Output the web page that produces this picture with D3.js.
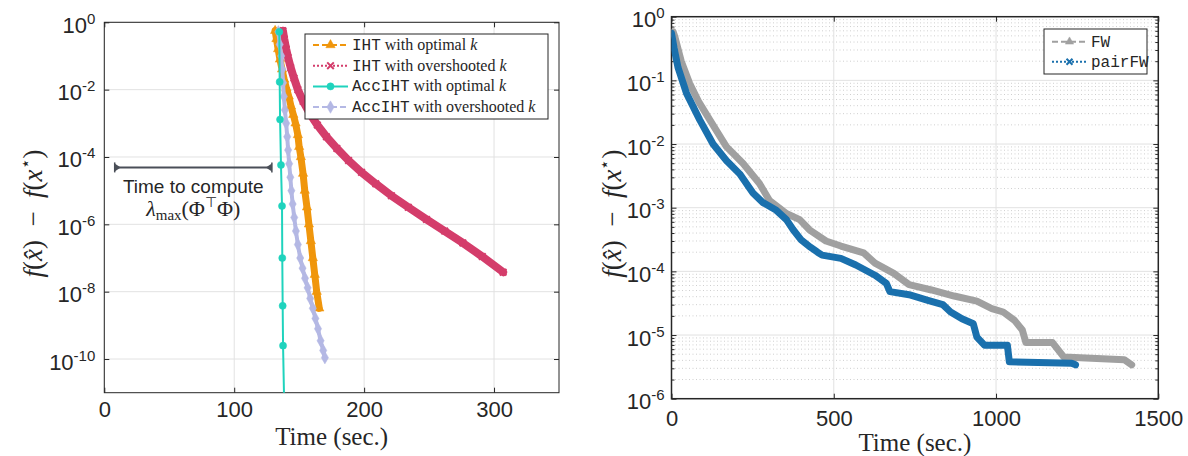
<!DOCTYPE html>
<html>
<head>
<meta charset="utf-8">
<script src="https://cdn.jsdelivr.net/npm/d3@7"></script>
<style>
  body { margin: 0; background: #fff; }
  text { fill: #262626; }
</style>
</head>
<body>
<svg id="chart" width="1188" height="456"></svg>
<script>
// ---- left panel data (time in sec., objective gap) ----
var ihtOptTime = [131.5,132.5,133.8,135.2,136.8,138.5,140.2,142,143.7,145.5,147.2,149,150,151.3,153,154.3,156,157.5,159,160.5,162,163.5,165.5];
var ihtOptVal  = [5.6e-1,3.2e-1,1.6e-1,7.9e-2,4.0e-2,2.0e-2,1.1e-2,6.3e-3,3.2e-3,1.8e-3,1.0e-3,4.5e-4,2.0e-4,1.0e-4,3.2e-5,1.0e-5,3.2e-6,1.0e-6,3.2e-7,1.0e-7,3.2e-8,1.0e-8,3.2e-9];

var ihtOverTime = [137.5,138.5,140,141.5,143.5,146,149,153,158,164,171,179,188,198,209,221,234,248,262,276,291,307];
var ihtOverVal  = [5.6e-1,3.2e-1,1.6e-1,8.9e-2,4.5e-2,2.2e-2,1.0e-2,4.5e-3,2.0e-3,8.9e-4,4.0e-4,1.8e-4,7.9e-5,3.5e-5,1.6e-5,7.1e-6,3.2e-6,1.4e-6,6.3e-7,2.8e-7,1.1e-7,3.8e-8];

var accOptTime = [134.7,135.0,135.3,136.0,136.8,137.0,137.3,137.6,138.5];
var accOptVal  = [5.2e-1,1.7e-2,1.3e-3,5.8e-5,3.5e-6,1.0e-7,3.8e-9,2.5e-10,4.0e-12];

var accOverTime = [134.0,135.0,136.2,137.0,137.6,138.2,139.0,140.0,140.8,141.5,142.3,143.2,144.0,145.0,146.2,147.5,149.0,150.8,152.6,154.5,156.5,158.5,160.5,162.5,164.5,166.5,168.5,169.8];
var accOverVal  = [5.2e-1,2.2e-1,1.0e-1,4.0e-2,1.6e-2,6.3e-3,2.5e-3,1.0e-3,4.0e-4,1.6e-4,6.3e-5,2.5e-5,1.0e-5,4.0e-6,1.6e-6,6.3e-7,2.5e-7,1.0e-7,5.0e-8,2.5e-8,1.3e-8,6.3e-9,3.2e-9,1.6e-9,7.9e-10,3.5e-10,1.8e-10,1.1e-10];

// "time to compute lambda_max" bracket
var bracketTime = [8, 129];
var bracketVal = 4.9e-5;

// ---- right panel data ----
var fwTime = [5,10,30,56,85,118,169,220,271,302,354,395,425,476,522,592,627,685,732,801,871,941,987,1022,1057,1081,1092,1174,1191,1209,1395,1418];
var fwVal  = [5.8e-1,4.9e-1,2.0e-1,8.9e-2,4.5e-2,2.4e-2,9.1e-3,5.0e-3,2.4e-3,1.3e-3,8.1e-4,6.5e-4,4.5e-4,3.0e-4,2.5e-4,1.95e-4,1.35e-4,9.3e-5,6.2e-5,5.1e-5,4.1e-5,3.4e-5,2.6e-5,2.3e-5,1.7e-5,1.2e-5,7.6e-6,7.6e-6,5.9e-6,4.5e-6,4.1e-6,3.4e-6];

var pairTime = [0,8,20,46,87,128,169,210,251,282,323,354,375,400,428,450,464,522,568,627,662,673,732,790,836,860,895,930,941,965,1035,1038,1041,1233,1245];
var pairVal  = [5.5e-1,3.2e-1,1.6e-1,6.3e-2,2.4e-2,1.0e-2,5.5e-3,3.4e-3,1.7e-3,1.2e-3,9.1e-4,6.5e-4,4.5e-4,3.1e-4,2.4e-4,2.0e-4,1.8e-4,1.6e-4,1.26e-4,8.7e-5,6.5e-5,4.8e-5,4.3e-5,3.5e-5,3.0e-5,2.3e-5,1.8e-5,1.5e-5,9.3e-6,6.9e-6,6.9e-6,5.1e-6,3.8e-6,3.6e-6,3.4e-6];

// ticks
var leftXTicks = [0, 100, 200, 300];
var leftYExp = [0, -2, -4, -6, -8, -10];
var rightXTicks = [0, 500, 1000, 1500];
var rightYExp = [0, -1, -2, -3, -4, -5, -6];

var svg = d3.select("#chart");
svg.append("rect").attr("width", 1188).attr("height", 456).attr("fill", "#fff");

var axisColor = "#262626";
var sans = "'Liberation Sans', Arial, Helvetica, sans-serif";
var serif = "'Liberation Serif', 'Times New Roman', serif";
var mono = "'Liberation Mono', 'Courier New', monospace";

function zip(a, b) { return a.map(function(t, i) { return [t, b[i]]; }); }

function drawPanel(p) {
  var x = d3.scaleLinear().domain(p.xDomain).range([p.left, p.right]);
  var y = d3.scaleLog().domain(p.yDomain).range([p.bottom, p.top]);
  var g = svg.append("g");
  var yTicks = p.yExp.map(function(e) { return Math.pow(10, e); });

  // minor grid
  if (p.minor) {
    g.append("g").selectAll("line").data(p.minor).join("line")
      .attr("x1", p.left).attr("x2", p.right)
      .attr("y1", function(d) { return y(d); }).attr("y2", function(d) { return y(d); })
      .attr("stroke", "#cfcfcf").attr("stroke-width", 1).attr("stroke-dasharray", "1,2.5");
  }
  // major grid
  g.append("g").selectAll("line").data(yTicks).join("line")
    .attr("x1", p.left).attr("x2", p.right)
    .attr("y1", function(d) { return y(d); }).attr("y2", function(d) { return y(d); })
    .attr("stroke", "#e2e2e2");
  g.append("g").selectAll("line").data(p.xTicks).join("line")
    .attr("y1", p.top).attr("y2", p.bottom)
    .attr("x1", function(d) { return x(d); }).attr("x2", function(d) { return x(d); })
    .attr("stroke", "#e2e2e2");

  // axes (inward ticks like matlab)
  var xa = g.append("g").attr("transform", "translate(0," + p.bottom + ")")
    .call(d3.axisBottom(x).tickValues(p.xTicks).tickFormat(d3.format("d"))
      .tickSizeInner(-5).tickSizeOuter(0).tickPadding(p.xPad));
  g.append("g").attr("transform", "translate(0," + p.top + ")")
    .call(d3.axisTop(x).tickValues(p.xTicks).tickSizeInner(-5).tickSizeOuter(0).tickFormat(""));
  var ya = g.append("g").attr("transform", "translate(" + p.left + ",0)")
    .call(d3.axisLeft(y).tickValues(yTicks).tickSizeInner(-5).tickSizeOuter(0).tickPadding(p.yPad));
  g.append("g").attr("transform", "translate(" + p.right + ",0)")
    .call(d3.axisRight(y).tickValues(yTicks).tickSizeInner(-5).tickSizeOuter(0).tickFormat(""));
  if (p.minor) {
    g.append("g").attr("transform", "translate(" + p.left + ",0)")
      .call(d3.axisLeft(y).tickValues(p.minor).tickSizeInner(-3).tickSizeOuter(0).tickFormat(""));
    g.append("g").attr("transform", "translate(" + p.right + ",0)")
      .call(d3.axisRight(y).tickValues(p.minor).tickSizeInner(-3).tickSizeOuter(0).tickFormat(""));
  }
  g.selectAll(".domain").remove();
  g.selectAll(".tick line").attr("stroke", axisColor);

  xa.selectAll("text").attr("font-family", sans).attr("font-size", 22).attr("fill", axisColor);
  ya.selectAll(".tick text").each(function(d) {
    var t = d3.select(this).text(null)
      .attr("font-family", sans).attr("font-size", 22).attr("fill", axisColor)
      .attr("dy", 10);
    t.append("tspan").text("10");
    t.append("tspan").attr("font-size", 15).attr("dy", -9).text(String(Math.round(Math.log10(d))));
  });

  g.append("rect").attr("x", p.left).attr("y", p.top)
    .attr("width", p.right - p.left).attr("height", p.bottom - p.top)
    .attr("fill", "none").attr("stroke", axisColor).attr("stroke-width", p.boxWidth);

  // x label
  g.append("text").attr("x", (p.left + p.right) / 2).attr("y", p.xLabelY)
    .attr("text-anchor", "middle").attr("font-family", serif).attr("font-size", 25)
    .text("Time (sec.)");

  // y label  f(x^) - f(x*)
  var yl = g.append("text")
    .attr("transform", "translate(" + p.yLabelX + "," + ((p.top + p.bottom) / 2 + 6) + ") rotate(-90)")
    .attr("text-anchor", "middle").attr("font-family", serif).attr("font-size", 27)
    .style("white-space", "pre");
  yl.append("tspan").attr("font-style", "italic").text("f");
  yl.append("tspan").text("(");
  yl.append("tspan").attr("font-style", "italic").text("x\u0302");
  yl.append("tspan").text(")  \u2212  ");
  yl.append("tspan").attr("font-style", "italic").text("f");
  yl.append("tspan").text("(");
  yl.append("tspan").attr("font-style", "italic").text("x");
  yl.append("tspan").attr("font-size", 17).attr("dy", -11).text("\u22c6");
  yl.append("tspan").attr("dy", 11).text(")");

  var clipId = "clip" + p.id;
  svg.append("clipPath").attr("id", clipId).append("rect")
    .attr("x", p.left).attr("y", p.top).attr("width", p.right - p.left).attr("height", p.bottom - p.top);
  var plot = svg.append("g").attr("clip-path", "url(#" + clipId + ")");
  return { x: x, y: y, plot: plot };
}

function symbolPath(type, size) {
  return d3.symbol().type(type).size(size)();
}

function drawSeries(panel, s) {
  var data = zip(s.time, s.val);
  var line = d3.line().x(function(d) { return panel.x(d[0]); }).y(function(d) { return panel.y(d[1]); });
  if (s.band) {
    panel.plot.append("path").datum(data).attr("d", line)
      .attr("fill", "none").attr("stroke", s.color).attr("stroke-width", s.band)
      .attr("stroke-linejoin", "round").attr("stroke-linecap", "round");
  }
  panel.plot.append("path").datum(data).attr("d", line)
    .attr("fill", "none").attr("stroke", s.color).attr("stroke-width", s.width || 1.5)
    .attr("stroke-dasharray", s.dash || null);
  if (s.marker) {
    panel.plot.append("g").selectAll("path").data(data).join("path")
      .attr("transform", function(d) { return "translate(" + panel.x(d[0]) + "," + panel.y(d[1]) + ")"; })
      .attr("d", symbolPath(s.marker, s.markerSize))
      .attr("fill", s.markerStroke ? "none" : s.color)
      .attr("stroke", s.color).attr("stroke-width", s.markerStroke ? 2 : 0.5);
  }
}

function drawLegend(items, box) {
  var g = svg.append("g");
  g.append("rect").attr("x", box.x).attr("y", box.y).attr("width", box.w).attr("height", box.h)
    .attr("fill", "#fff").attr("stroke", axisColor).attr("stroke-width", 1);
  items.forEach(function(s, i) {
    var cy = box.y + box.first + i * box.step;
    g.append("line").attr("x1", box.x + 8).attr("x2", box.x + 43).attr("y1", cy).attr("y2", cy)
      .attr("stroke", s.color).attr("stroke-width", 2).attr("stroke-dasharray", s.dash || null);
    g.append("path").attr("transform", "translate(" + (box.x + 25.5) + "," + cy + ")")
      .attr("d", symbolPath(s.marker, s.markerSize))
      .attr("fill", s.markerStroke ? "none" : s.color)
      .attr("stroke", s.color).attr("stroke-width", s.markerStroke ? 2 : 0.5);
    var t = g.append("text").attr("x", box.x + 47).attr("y", cy + 5).attr("font-size", 16)
      .style("white-space", "pre");
    s.label.forEach(function(part) {
      t.append("tspan").attr("font-family", part[1] === "m" ? mono : serif)
        .attr("font-style", part[1] === "i" ? "italic" : "normal").text(part[0]);
    });
  });
}

// ---------------- left panel ----------------
var L = drawPanel({
  id: "L", left: 104.3, right: 559, top: 22.3, bottom: 392.7,
  xDomain: [0, 350], yDomain: [1e-11, 1],
  xTicks: leftXTicks, yExp: leftYExp, xPad: 9, yPad: 9,
  xLabelY: 445, yLabelX: 42, boxWidth: 1
});

var leftSeries = [
  { time: ihtOptTime, val: ihtOptVal, color: "#f0960c", dash: "6,3", marker: d3.symbolTriangle, markerSize: 38, band: 7,
    label: [["IHT", "m"], [" with optimal ", "s"], ["k", "i"]] },
  { time: ihtOverTime, val: ihtOverVal, color: "#d43d6b", dash: "2,2", marker: d3.symbolTimes, markerSize: 30, markerStroke: true, band: 8,
    label: [["IHT", "m"], [" with overshooted ", "s"], ["k", "i"]] },
  { time: accOptTime, val: accOptVal, color: "#1fd3bd", dash: null, width: 2, marker: d3.symbolCircle, markerSize: 40,
    label: [["AccIHT", "m"], [" with optimal ", "s"], ["k", "i"]] },
  { time: accOverTime, val: accOverVal, color: "#b4b8e4", dash: "6,3", marker: d3.symbolDiamond, markerSize: 45, band: 4,
    label: [["AccIHT", "m"], [" with overshooted ", "s"], ["k", "i"]] }
];
// draw order: matlab draws later series on top
[leftSeries[1], leftSeries[0], leftSeries[3], leftSeries[2]].forEach(function(s) { drawSeries(L, s); });

// bracket annotation
var bx0 = L.x(bracketTime[0]), bx1 = L.x(bracketTime[1]), by = L.y(bracketVal);
var ann = svg.append("g").attr("stroke", "#4a4f58").attr("fill", "#4a4f58");
ann.append("line").attr("x1", bx0).attr("x2", bx1).attr("y1", by).attr("y2", by).attr("stroke-width", 2);
ann.append("line").attr("x1", bx0).attr("x2", bx0).attr("y1", by - 5).attr("y2", by + 5).attr("stroke-width", 1.5);
ann.append("line").attr("x1", bx1).attr("x2", bx1).attr("y1", by - 5).attr("y2", by + 5).attr("stroke-width", 1.5);
ann.append("path").attr("d", "M" + bx0 + "," + (by - 4) + "L" + (bx0 + 6) + "," + by + "L" + bx0 + "," + (by + 4) + "Z").attr("stroke", "none");
ann.append("path").attr("d", "M" + bx1 + "," + (by - 4) + "L" + (bx1 - 6) + "," + by + "L" + bx1 + "," + (by + 4) + "Z").attr("stroke", "none");
svg.append("text").attr("x", (bx0 + bx1) / 2).attr("y", by + 26).attr("text-anchor", "middle")
  .attr("font-family", sans).attr("font-size", 19).text("Time to compute");
var lam = svg.append("text").attr("x", (bx0 + bx1) / 2).attr("y", by + 49).attr("text-anchor", "middle")
  .attr("font-family", serif).attr("font-size", 22);
lam.append("tspan").attr("font-style", "italic").text("\u03bb");
lam.append("tspan").attr("font-size", 15).attr("dy", 4).text("max");
lam.append("tspan").attr("dy", -4).text("(\u03a6");
lam.append("tspan").attr("font-size", 14).attr("dy", -9).text("\u22a4");
lam.append("tspan").attr("dy", 9).text("\u03a6)");

drawLegend(leftSeries, { x: 305, y: 34, w: 243, h: 85, first: 11, step: 20.7 });

// ---------------- right panel ----------------
var minorR = [];
rightYExp.slice(1).forEach(function(e) {
  [2, 3, 4, 5, 6, 7, 8, 9].forEach(function(m) { minorR.push(m * Math.pow(10, e)); });
});
var R = drawPanel({
  id: "R", left: 671.5, right: 1158.3, top: 16.7, bottom: 398.7,
  xDomain: [0, 1500], yDomain: [1e-6, 1],
  xTicks: rightXTicks, yExp: rightYExp, xPad: 12, yPad: 7, minor: minorR,
  xLabelY: 451, yLabelX: 621, boxWidth: 1.5
});

var rightSeries = [
  { time: fwTime, val: fwVal, color: "#a0a0a0", dash: "6,3", marker: d3.symbolTriangle, markerSize: 30, band: 7,
    label: [["FW", "m"]] },
  { time: pairTime, val: pairVal, color: "#1a70ad", dash: "2,2", marker: d3.symbolTimes, markerSize: 25, markerStroke: true, band: 7,
    label: [["pairFW", "m"]] }
];
rightSeries.forEach(function(s) {
  drawSeries(R, { time: s.time, val: s.val, color: s.color, band: s.band, width: 1 });
});

drawLegend(rightSeries, { x: 1044, y: 29, w: 103, h: 45, first: 12.7, step: 20 });
</script>
</body>
</html>
